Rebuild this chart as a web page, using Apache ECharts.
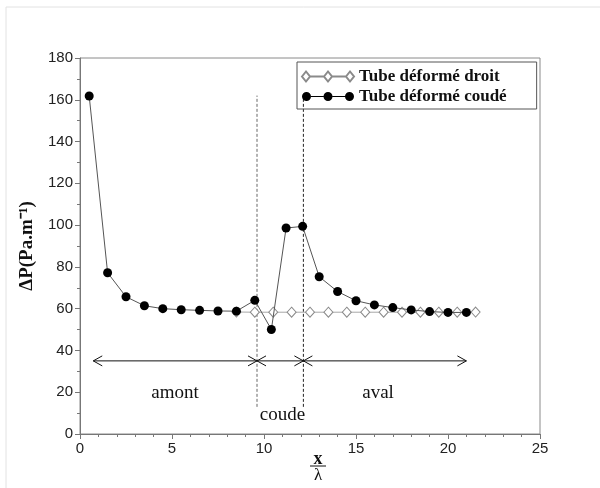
<!DOCTYPE html>
<html><head><meta charset="utf-8">
<script src="https://cdn.jsdelivr.net/npm/echarts@6/dist/echarts.min.js"></script>
<style>html,body{margin:0;padding:0;background:#fff}#c{width:600px;height:488px}</style>
</head><body><div id="c"></div>
<script>
// ---- data ----
const coudeX = [0.5, 1.5, 2.5, 3.5, 4.5, 5.5, 6.5, 7.5, 8.5, 9.5, 10.4, 11.2, 12.1, 13, 14, 15, 16, 17, 18, 19, 20, 21];
const coudeY = [161.8, 77.2, 65.7, 61.4, 60.0, 59.5, 59.2, 58.9, 58.8, 64.0, 50.0, 98.6, 99.4, 75.3, 68.2, 63.8, 61.8, 60.5, 59.4, 58.6, 58.2, 58.2];
const droitX = [8.5, 9.5, 10.5, 11.5, 12.5, 13.5, 14.5, 15.5, 16.5, 17.5, 18.5, 19.5, 20.5, 21.5];
const droitY = [58.4, 58.3, 58.3, 58.3, 58.3, 58.3, 58.3, 58.3, 58.3, 58.3, 58.3, 58.3, 58.3, 58.4];
const seriesNames = ['Tube déformé droit', 'Tube déformé coudé'];
const xTickStep = 5, xMin = 0, xMax = 25;
const yTickStep = 20, yMin = 0, yMax = 180;
// zone annotations
const zoneBounds = [0.72, 9.62, 12.14, 21.0];
const arrowLevel = 35;
const dashX = [9.62, 12.14];
const dashRange = [13, 162];
const zoneNames = ['amont', 'coude', 'aval'];
const zoneLabelX = [5.16, 11.0, 16.2];
const zoneLabelY = [19.6, 9.0, 19.6];

const chart = echarts.init(document.getElementById('c'), null, {renderer: 'canvas'});
const pair = (xs, ys) => xs.map((x, i) => [x, ys[i]]);
const arrowData = zoneNames.map((n, i) => [zoneBounds[i], zoneBounds[i + 1], arrowLevel]);
const dashData = dashX.map(x => [x, dashRange[0], dashRange[1]]);
const labelData = zoneNames.map((n, i) => [zoneLabelX[i], zoneLabelY[i]]);
const serif = 'Liberation Serif';
const sans = 'Liberation Sans';

const diamondIcon = 'path://M0,5L4,0L8,5L4,10Z M22,5L26,0L30,5L26,10Z M44,5L48,0L52,5L48,10Z M8,5L22,5 M30,5L44,5';
const circle = cx => 'M' + (cx - 4.5) + ',5a4.5,4.5 0 1,0 9,0a4.5,4.5 0 1,0 -9,0';
const circleIcon = 'path://' + circle(4.5) + ' ' + circle(26) + ' ' + circle(47.5) + ' M9,4.6L21.5,4.6L21.5,5.4L9,5.4Z M30.5,4.6L43,4.6L43,5.4L30.5,5.4Z';

chart.setOption({
  animation: false,
  backgroundColor: '#fff',
  grid: {left: 80, right: 60, top: 58, bottom: 54, show: true, borderColor: '#8a8a8a', borderWidth: 1},
  legend: {
    data: [{name: seriesNames[0], icon: diamondIcon}, {name: seriesNames[1], icon: circleIcon}],
    orient: 'vertical',
    left: 297, top: 62,
    padding: [6, 30, 4, 4],
    itemGap: 3,
    itemWidth: 52, itemHeight: 10,
    borderColor: '#555', borderWidth: 1,
    textStyle: {fontFamily: serif, fontWeight: 'bold', fontSize: 17, color: '#111'}
  },
  xAxis: {
    type: 'value', min: xMin, max: xMax, interval: xTickStep,
    axisLine: {lineStyle: {color: '#777'}},
    axisTick: {length: 5, lineStyle: {color: '#777'}},
    minorTick: {show: true, splitNumber: 5, length: 3, lineStyle: {color: '#777'}},
    splitLine: {show: false},
    axisLabel: {fontFamily: sans, fontSize: 15, color: '#222', margin: 7}
  },
  yAxis: {
    type: 'value', min: yMin, max: yMax, interval: yTickStep,
    name: 'ΔP(Pa.m⁻¹)', nameLocation: 'middle', nameGap: 43, nameRotate: 90,
    nameTextStyle: {fontFamily: serif, fontWeight: 'bold', fontSize: 19, color: '#111'},
    axisLine: {show: true, lineStyle: {color: '#777'}},
    axisTick: {show: true, length: 5, lineStyle: {color: '#777'}},
    minorTick: {show: true, splitNumber: 2, length: 3, lineStyle: {color: '#777'}},
    splitLine: {show: false},
    axisLabel: {fontFamily: sans, fontSize: 15, color: '#222', margin: 7}
  },
  graphic: [
    {type: 'rect', shape: {x: 6, y: 7, width: 620, height: 520}, style: {fill: 'none', stroke: '#e2e2e2', lineWidth: 1}, silent: true},
    {type: 'text', x: 318, y: 459, style: {text: 'x', fontFamily: serif, fontWeight: 'bold', fontSize: 18, fill: '#111', align: 'center', verticalAlign: 'middle'}},
    {type: 'line', shape: {x1: 310, y1: 466, x2: 326, y2: 466}, style: {stroke: '#111', lineWidth: 1}},
    {type: 'text', x: 318, y: 476, style: {text: 'λ', fontFamily: serif, fontSize: 17, fill: '#111', align: 'center', verticalAlign: 'middle'}}
  ],
  series: [
    {
      name: seriesNames[0], type: 'line', data: pair(droitX, droitY), z: 2,
      symbol: 'diamond', symbolSize: [9, 10],
      lineStyle: {color: '#a8a8a8', width: 1},
      itemStyle: {color: '#fff', borderColor: '#8a8a8a', borderWidth: 1}
    },
    {
      name: seriesNames[1], type: 'line', data: pair(coudeX, coudeY), z: 3,
      symbol: 'circle', symbolSize: 9,
      lineStyle: {color: '#555', width: 1},
      itemStyle: {color: '#000', borderColor: '#000', borderWidth: 0}
    },
    {
      type: 'custom', name: 'dash', data: dashData, z: 1, silent: true,
      renderItem: (params, api) => {
        const a = api.coord([api.value(0), api.value(1)]);
        const b = api.coord([api.value(0), api.value(2)]);
        return {type: 'line', shape: {x1: a[0], y1: a[1], x2: b[0], y2: b[1]},
          style: {stroke: params.dataIndex === 0 ? '#666' : '#222', lineWidth: 1, lineDash: [3, 2]}};
      }
    },
    {
      type: 'custom', name: 'arrows', data: arrowData, z: 4, silent: true,
      renderItem: (params, api) => {
        const a = api.coord([api.value(0), api.value(2)]);
        const b = api.coord([api.value(1), api.value(2)]);
        const L = 9, H = 5;
        const st = {stroke: '#111', lineWidth: 1, fill: 'none'};
        return {type: 'group', children: [
          {type: 'line', shape: {x1: a[0], y1: a[1], x2: b[0], y2: b[1]}, style: st},
          {type: 'polyline', shape: {points: [[a[0] + L, a[1] - H], [a[0], a[1]], [a[0] + L, a[1] + H]]}, style: st},
          {type: 'polyline', shape: {points: [[b[0] - L, b[1] - H], [b[0], b[1]], [b[0] - L, b[1] + H]]}, style: st}
        ]};
      }
    },
    {
      type: 'custom', name: 'zones', data: labelData, z: 4, silent: true,
      renderItem: (params, api) => {
        const p = api.coord([api.value(0), api.value(1)]);
        return {type: 'text', x: p[0], y: p[1],
          style: {text: zoneNames[params.dataIndex], fontFamily: serif, fontSize: 19, fill: '#111', align: 'center', verticalAlign: 'middle'}};
      }
    }
  ]
});
</script>
</body></html>
